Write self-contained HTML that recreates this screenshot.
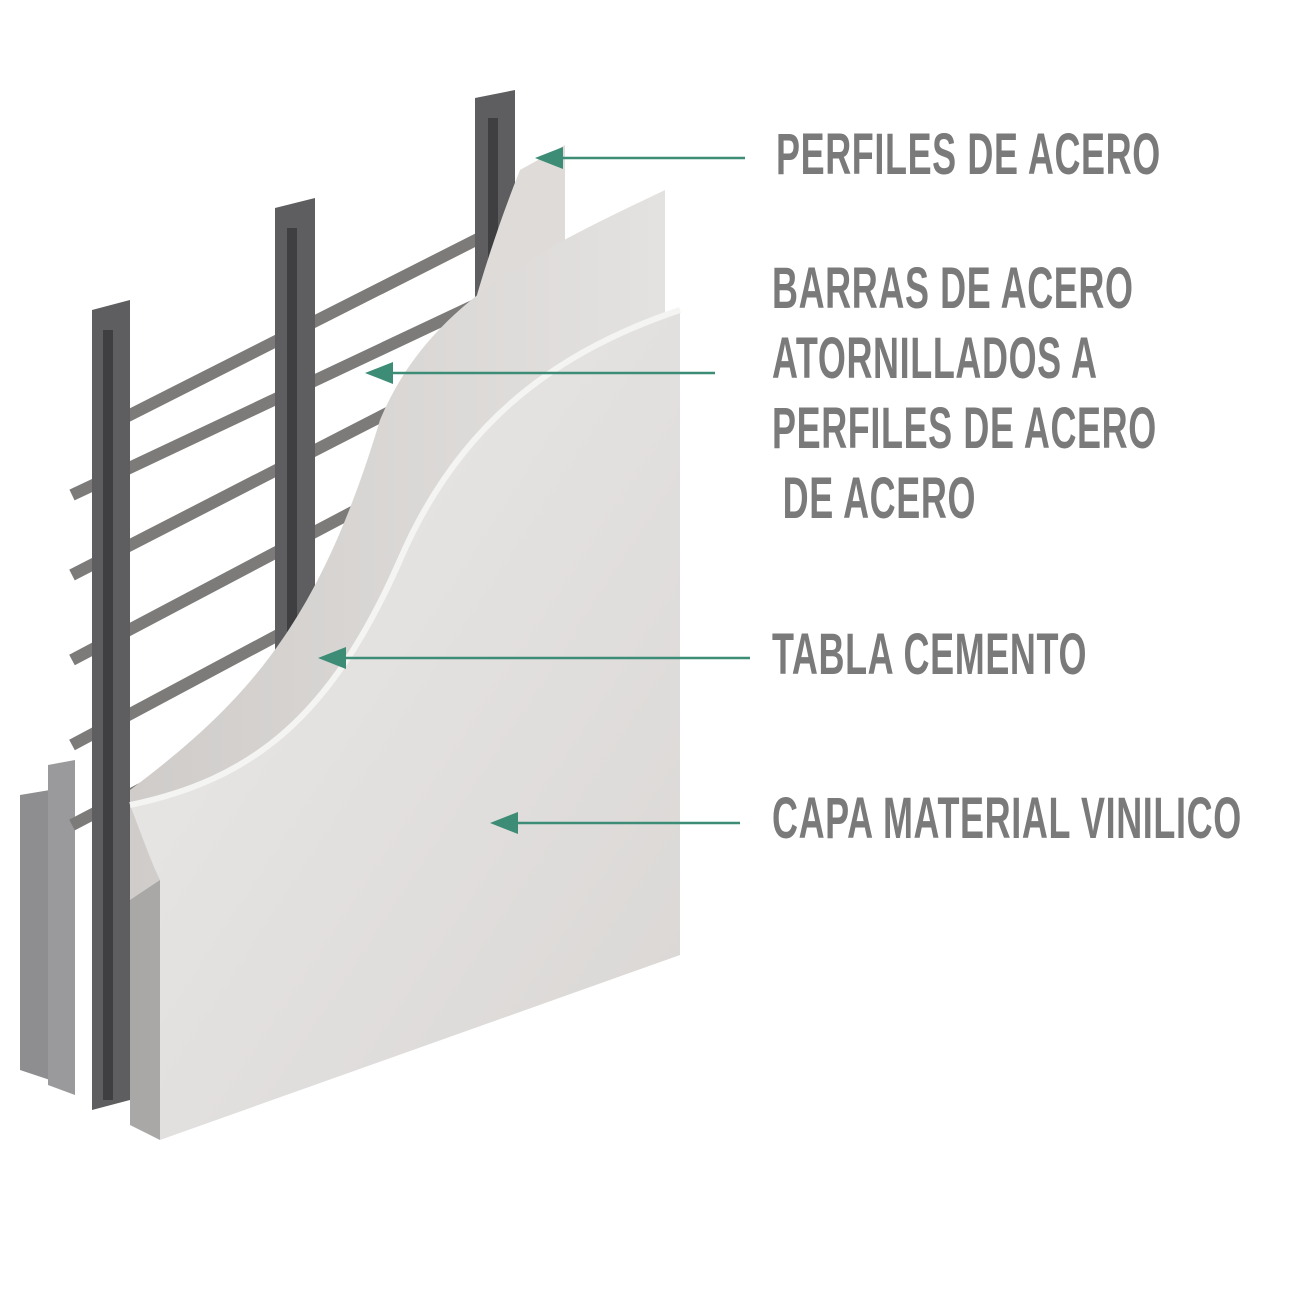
<!DOCTYPE html>
<html><head><meta charset="utf-8"><style>
html,body{margin:0;padding:0;background:#fff;width:1294px;height:1294px;overflow:hidden}
.t{position:absolute;font-family:"Liberation Sans",sans-serif;font-weight:bold;color:#7a7a7a;font-size:58px;line-height:70px;transform:scaleX(0.62);transform-origin:left top;white-space:nowrap;letter-spacing:1px}
</style></head><body>
<svg width="1294" height="1294" style="position:absolute;left:0;top:0">
<defs>
<linearGradient id="pan" x1="0" y1="0" x2="1" y2="1"><stop offset="0" stop-color="#ecebea"/><stop offset="1" stop-color="#d9d6d4"/></linearGradient>
<linearGradient id="pan2" x1="0" y1="0" x2="1" y2="0"><stop offset="0" stop-color="#cfccca"/><stop offset="1" stop-color="#e4e2e0"/></linearGradient>
</defs>
<polygon points="20,795 50,790 50,1080 20,1070" fill="#8e8e90"/>
<polygon points="48,765 75,760 75,1095 48,1085" fill="#9a9a9c"/>
<g stroke="#7d7b79" stroke-width="12">
<line x1="72" y1="495" x2="545" y2="272"/>
<line x1="72" y1="575" x2="520" y2="345"/>
<line x1="72" y1="660" x2="470" y2="450"/>
<line x1="72" y1="745" x2="400" y2="570"/>
<line x1="72" y1="825" x2="330" y2="690"/>
<line x1="120" y1="420" x2="545" y2="205"/>
</g>
<g fill="#5e5e60">
<polygon points="92,310 130,300 130,1100 92,1110"/>
<polygon points="275,208 315,198 315,800 275,810"/>
<polygon points="475,98 515,90 515,300 475,310"/>
</g>
<g fill="#3f3f42">
<rect x="103" y="330" width="10" height="770"/>
<rect x="287" y="228" width="10" height="580"/>
<rect x="488" y="118" width="10" height="180"/>
</g>
<path d="M520,170 L565,145 L565,900 L380,960 C400,700 420,420 520,170 Z" fill="#dedbd8"/>
<path d="M130,790 C250,700 320,620 380,420 C430,300 540,250 665,190 L665,960 L130,1120 Z" fill="url(#pan2)"/>
<path d="M130,805 C250,780 330,720 400,560 C460,420 560,350 680,310 L680,955 L160,1140 L160,880 C150,860 140,830 130,805 Z" fill="url(#pan)"/>
<path d="M130,805 C250,780 330,720 400,560 C460,420 560,350 680,310" fill="none" stroke="#f4f4f3" stroke-width="6"/>
<polygon points="130,900 160,880 160,1140 130,1125" fill="#a9a8a7"/>
<g stroke="#3d8c76" stroke-width="2.5" fill="#3d8c76">
<line x1="745" y1="158" x2="550" y2="158"/><polygon points="535,158 563,147 563,169" stroke="none"/>
<line x1="715" y1="373" x2="380" y2="373"/><polygon points="365,373 393,362 393,384" stroke="none"/>
<line x1="750" y1="658" x2="333" y2="658"/><polygon points="318,658 346,647 346,669" stroke="none"/>
<line x1="740" y1="823" x2="505" y2="823"/><polygon points="490,823 518,812 518,834" stroke="none"/>
</g>
</svg>
<div class="t" style="left:776px;top:120px">PERFILES DE ACERO</div>
<div class="t" style="left:772px;top:254px">BARRAS DE ACERO<br>ATORNILLADOS A<br>PERFILES DE ACERO<br>&nbsp;DE ACERO</div>
<div class="t" style="left:772px;top:620px">TABLA CEMENTO</div>
<div class="t" style="left:772px;top:784px">CAPA MATERIAL VINILICO</div>
</body></html>
